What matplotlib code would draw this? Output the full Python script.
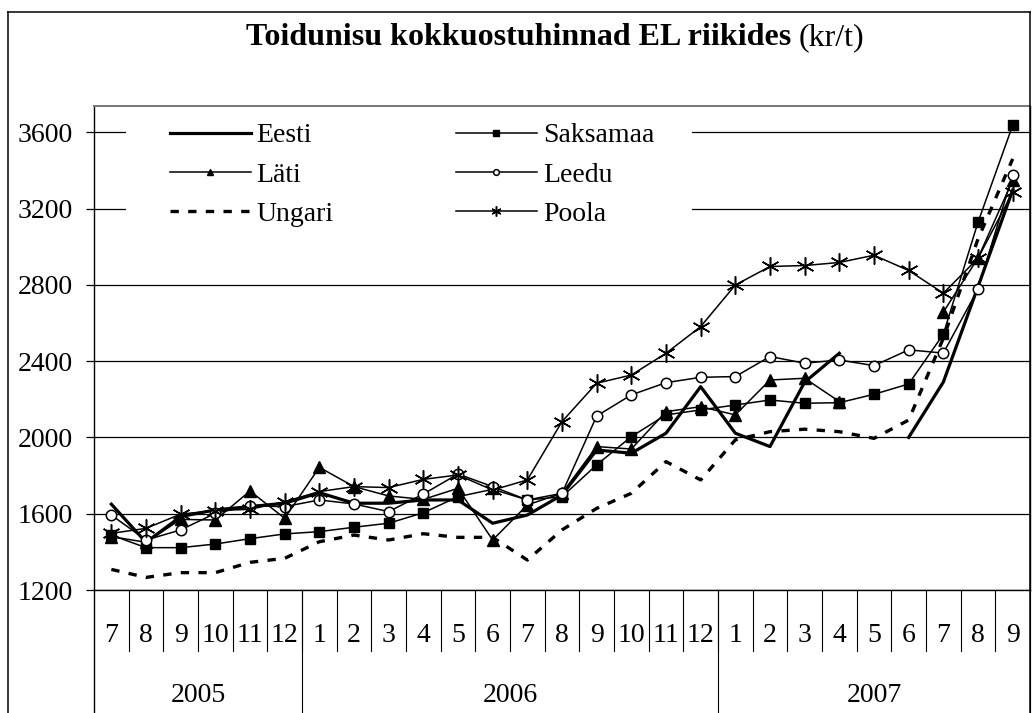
import numpy as np
import matplotlib
matplotlib.use("Agg")
import matplotlib.pyplot as plt
from matplotlib.lines import Line2D
from matplotlib.patches import Rectangle

nan = np.nan

# kuud 2005-7 ... 2007-9
months = ["7", "8", "9", "10", "11", "12",
          "1", "2", "3", "4", "5", "6", "7", "8", "9", "10", "11", "12",
          "1", "2", "3", "4", "5", "6", "7", "8", "9"]
years = ["2005", "2006", "2007"]
year_len = [6, 12, 9]

eesti = [1650, 1450, 1585, 1620, 1637, 1655, 1710, 1655, 1655, 1672, 1672, 1550,
         1593, 1698, 1934, 1917, 2022, 2266, 2022, 1952, 2290, 2441, nan, 2000,
         2290, 2790, 3296]
saksamaa = [1488, 1422, 1422, 1441, 1469, 1494, 1506, 1529, 1550, 1605, 1689, 1728,
            1672, 1689, 1856, 2004, 2118, 2144, 2170, 2196, 2179, 2182, 2226, 2280,
            2541, 3128, 3636]
lati = [1480, 1450, 1570, 1567, 1719, 1576, 1843, 1742, 1693, 1675, 1733, 1462,
        1646, 1707, 1952, 1939, 2135, 2161, 2118, 2301, 2310, 2188, nan, nan,
        2657, 2940, 3348]
leedu = [1593, 1462, 1515, 1602, 1642, 1637, 1672, 1651, 1611, 1703, 1808, 1742,
         1672, 1707, 2112, 2223, 2287, 2315, 2319, 2424, 2389, 2406, 2376, 2459,
         2442, 2777, 3375]
ungari = [1308, 1266, 1291, 1291, 1345, 1366, 1453, 1488, 1462, 1495, 1476, 1476,
          1357, 1515, 1628, 1707, 1873, 1777, 1987, 2030, 2043, 2030, 1995, 2091,
          2520, 3040, 3460]
poola = [1497, 1523, 1598, 1616, 1623, 1663, 1716, 1742, 1737, 1780, 1803, 1724,
         1777, 2083, 2284, 2327, 2441, 2581, 2799, 2896, 2901, 2917, 2955, 2875,
         2756, 2939, 3285]

plt.rcParams["font.family"] = ["Liberation Serif", "DejaVu Serif"]

W, H = 1036, 713
fig = plt.figure(figsize=(W / 100, H / 100), dpi=100)


def fx(px):
    return px / W


def fy(py):
    return 1 - py / H


ax_top, ax_bot = 106, 590
ax = fig.add_axes([fx(94), fy(ax_bot), fx(1030) - fx(94), fy(ax_top) - fy(ax_bot)])
x = np.arange(len(months))

l_eesti, = ax.plot(x, eesti, color="black", lw=2.3, label="Eesti", zorder=3)
l_saks, = ax.plot(x, saksamaa, color="black", lw=1.1, marker="s", ms=7.8,
                  label="Saksamaa", zorder=3)
l_lati, = ax.plot(x, lati, color="black", lw=1.1, marker="^", ms=8.5,
                  label="Läti", zorder=3)
l_leedu, = ax.plot(x, leedu, color="black", lw=1.1, marker="o", ms=7.5,
                   mfc="white", mew=1.1, label="Leedu", zorder=3)
l_ung, = ax.plot(x, ungari, color="black", lw=2.4, ls=(0, (2.5, 2.8)),
                 label="Ungari", zorder=3)
l_poola, = ax.plot(x, poola, color="black", lw=1.1, marker=(6, 2, 0), ms=13,
                   mew=1.1, label="Poola", zorder=3)

ax.set_xlim(-0.5, len(months) - 0.5)
ax.set_ylim(1200, 1200 + (ax_bot - ax_top) / 76.3 * 400)
ax.set_yticks(range(1200, 3601, 400))
ax.set_xticks([])
ax.yaxis.grid(True, color="black", lw=0.9)
ax.set_axisbelow(True)
ax.tick_params(axis="y", length=6, width=0.9, pad=9, labelsize=20, direction="out")

for s in ["left", "right", "bottom"]:
    ax.spines[s].set_color("black")
    ax.spines[s].set_linewidth(1.0)
ax.spines["top"].set_color("#777777")
ax.spines["top"].set_linewidth(1.4)

# valge taust legendi all (katab ruudujooned)
ax.add_patch(Rectangle((fx(126), fy(235)), fx(692) - fx(126), fy(115) - fy(235),
                       transform=fig.transFigure, facecolor="white",
                       edgecolor="none", zorder=1))

handles = [l_eesti, l_lati, l_ung, l_saks, l_leedu, l_poola]
ax.legend(handles, [h.get_label() for h in handles], ncol=2, loc="upper left",
          bbox_to_anchor=(fx(170), fy(123)), bbox_transform=fig.transFigure,
          frameon=False, fontsize=20, handlelength=2.9, handletextpad=0.22,
          columnspacing=4.4, labelspacing=0.5, borderpad=0, borderaxespad=0,
          markerscale=0.55)

# kategooriatelg: kuud ja aastad
tr = ax.get_xaxis_transform()
yh = ax_bot - ax_top
for i, m in enumerate(months):
    ax.text(i, -(636 - ax_bot) / yh, m, transform=tr, ha="center", va="center",
            fontsize=20, clip_on=False)
for b in range(1, len(months)):
    ax.plot([b - 0.5, b - 0.5], [0, -(651 - ax_bot) / yh], transform=tr,
            color="black", lw=0.8, clip_on=False)
start = 0
for yr, n in zip(years, year_len):
    ax.text(start + n / 2 - 0.5, -(695 - ax_bot) / yh, yr, transform=tr,
            ha="center", va="center", fontsize=20, clip_on=False)
    ax.plot([start + n - 0.5] * 2, [0, -(H - ax_bot) / yh], transform=tr,
            color="black", lw=0.8, clip_on=False)
    start += n
ax.plot([-0.5, -0.5], [0, -(H - ax_bot) / yh], transform=tr, color="black",
        lw=1.0, clip_on=False)

# v2lisraam
for xs, ys in [([8, 8], [12, H]), ([8, 1030], [12, 12]), ([1030, 1030], [12, H])]:
    fig.add_artist(Line2D([fx(v) for v in xs], [fy(v) for v in ys],
                          transform=fig.transFigure, color="black", lw=1.1))

# pealkiri: paks osa + tavaline (kr/t)
renderer = fig.canvas.get_renderer()
t1 = fig.text(0, fy(45), "Toidunisu kokkuostuhinnad EL riikides", fontsize=23,
              fontweight="bold", va="baseline")
t2 = fig.text(0, fy(45), "(kr/t)", fontsize=23, va="baseline")
w1 = t1.get_window_extent(renderer).width
w2 = t2.get_window_extent(renderer).width
gap = 7
x0 = 555 - (w1 + gap + w2) / 2
t1.set_x(fx(x0))
t2.set_x(fx(x0 + w1 + gap))

fig.savefig("out.png", dpi=100)
